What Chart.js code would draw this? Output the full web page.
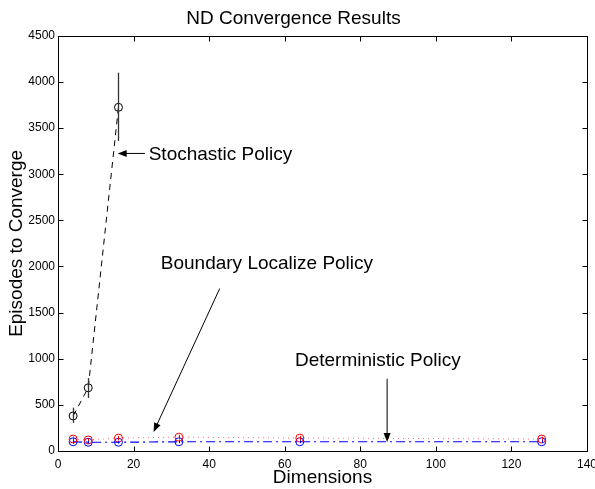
<!DOCTYPE html>
<html>
<head>
<meta charset="utf-8">
<script src="https://cdn.jsdelivr.net/npm/chart.js@4/dist/chart.umd.min.js"></script>
<style>
  html, body { margin: 0; padding: 0; background: #fff; }
  #wrap { width: 595px; height: 489px; }
</style>
</head>
<body>
<div id="wrap"><canvas id="chart"></canvas></div>
<script>
  var FONT = "'Liberation Sans', Arial, Helvetica, sans-serif";

  // data
  var stochDims = [4, 8, 16];
  var stochEpisodes = [380, 685, 3725];
  var stochLow = [305, 575, 3360];
  var stochHigh = [470, 790, 4100];

  var dims = [4, 8, 16, 32, 64, 128];
  var boundaryEpisodes = [130, 120, 140, 150, 140, 130];
  var boundaryLow = [105, 100, 115, 125, 115, 105];
  var boundaryHigh = [155, 140, 165, 175, 165, 155];
  var determEpisodes = [100, 95, 95, 100, 100, 100];
  var determLow = [80, 80, 80, 85, 85, 85];
  var determHigh = [120, 110, 110, 115, 115, 115];

  var xTicks = [0, 20, 40, 60, 80, 100, 120, 140];
  var yTicks = [0, 500, 1000, 1500, 2000, 2500, 3000, 3500, 4000, 4500];

  // annotation anchors in data units
  var notes = [
    { text: "Stochastic Policy", tx: 24.0, ty: 3215, from: [23.0, 3225], to: [15.8, 3225] },
    { text: "Boundary Localize Policy", tx: 27.2, ty: 2033, from: [42.8, 1761], to: [25.3, 207] },
    { text: "Deterministic Policy", tx: 62.7, ty: 978, from: [87.1, 783], to: [87.1, 98] }
  ];

  function pts(xs, ys) {
    return xs.map(function (x, i) { return { x: x, y: ys[i] }; });
  }

  function plainTick(v) { return String(v); }

  var errorBars = {
    id: "errorBars",
    afterDatasetsDraw: function (chart) {
      var ctx = chart.ctx, xs = chart.scales.x, ys = chart.scales.y;
      var sets = [
        { x: stochDims, lo: stochLow, hi: stochHigh, color: "#333", w: 1.3 },
        { x: dims, lo: boundaryLow, hi: boundaryHigh, color: "#ff0000", w: 1 },
        { x: dims, lo: determLow, hi: determHigh, color: "#0000ff", w: 1 }
      ];
      ctx.save();
      sets.forEach(function (s) {
        ctx.strokeStyle = s.color;
        ctx.lineWidth = s.w;
        s.x.forEach(function (x, i) {
          var px = Math.round(xs.getPixelForValue(x)) + 0.5;
          ctx.beginPath();
          ctx.moveTo(px, ys.getPixelForValue(s.lo[i]));
          ctx.lineTo(px, ys.getPixelForValue(s.hi[i]));
          ctx.stroke();
        });
      });
      ctx.restore();
    }
  };

  var boxTicks = {
    id: "boxTicks",
    afterDraw: function (chart) {
      var ctx = chart.ctx, a = chart.chartArea, xs = chart.scales.x, ys = chart.scales.y;
      var L = Math.round(a.left) + 0.5, R = Math.round(a.right) + 0.5;
      var T = Math.round(a.top) + 0.5, B = Math.round(a.bottom) + 0.5;
      ctx.save();
      ctx.strokeStyle = "#000";
      ctx.lineWidth = 1;
      ctx.strokeRect(L, T, R - L, B - T);
      ctx.beginPath();
      xTicks.forEach(function (v) {
        var px = Math.round(xs.getPixelForValue(v)) + 0.5;
        ctx.moveTo(px, B); ctx.lineTo(px, B - 5);
        ctx.moveTo(px, T); ctx.lineTo(px, T + 5);
      });
      yTicks.forEach(function (v) {
        var py = Math.round(ys.getPixelForValue(v)) + 0.5;
        ctx.moveTo(L, py); ctx.lineTo(L + 5, py);
        ctx.moveTo(R, py); ctx.lineTo(R - 5, py);
      });
      ctx.stroke();

      // text notes with arrows
      ctx.fillStyle = "#000";
      ctx.font = "19px " + FONT;
      ctx.textBaseline = "middle";
      ctx.textAlign = "left";
      notes.forEach(function (n) {
        ctx.fillText(n.text, xs.getPixelForValue(n.tx), ys.getPixelForValue(n.ty));
        var x0 = xs.getPixelForValue(n.from[0]), y0 = ys.getPixelForValue(n.from[1]);
        var x1 = xs.getPixelForValue(n.to[0]), y1 = ys.getPixelForValue(n.to[1]);
        var ang = Math.atan2(y1 - y0, x1 - x0);
        var hl = 9, hw = 3.5;
        ctx.beginPath();
        ctx.moveTo(x0, y0);
        ctx.lineTo(x1 - Math.cos(ang) * hl * 0.8, y1 - Math.sin(ang) * hl * 0.8);
        ctx.stroke();
        ctx.beginPath();
        ctx.moveTo(x1, y1);
        ctx.lineTo(x1 - Math.cos(ang) * hl - Math.sin(ang) * hw, y1 - Math.sin(ang) * hl + Math.cos(ang) * hw);
        ctx.lineTo(x1 - Math.cos(ang) * hl + Math.sin(ang) * hw, y1 - Math.sin(ang) * hl - Math.cos(ang) * hw);
        ctx.closePath();
        ctx.fill();
      });
      ctx.restore();
    }
  };

  new Chart(document.getElementById("chart"), {
    type: "line",
    data: {
      datasets: [
        {
          label: "Stochastic Policy",
          data: pts(stochDims, stochEpisodes),
          borderColor: "#000",
          borderWidth: 1,
          borderDash: [6, 5],
          pointStyle: "circle",
          pointRadius: 4,
          pointBorderColor: "#000",
          pointBackgroundColor: "rgba(0,0,0,0)",
          pointBorderWidth: 1,
          tension: 0
        },
        {
          label: "Boundary Localize Policy",
          data: pts(dims, boundaryEpisodes),
          borderColor: "#ff7070",
          borderWidth: 1,
          borderDash: [1, 4],
          pointRadius: 4,
          pointBorderColor: "#ff0000",
          pointBackgroundColor: "rgba(0,0,0,0)",
          pointBorderWidth: 1,
          tension: 0
        },
        {
          label: "Deterministic Policy",
          data: pts(dims, determEpisodes),
          borderColor: "#0000ff",
          borderWidth: 1.2,
          borderDash: [9, 4, 2, 4],
          pointRadius: 4,
          pointBorderColor: "#0000ff",
          pointBackgroundColor: "rgba(0,0,0,0)",
          pointBorderWidth: 1,
          tension: 0
        }
      ]
    },
    options: {
      responsive: true,
      maintainAspectRatio: false,
      animation: false,
      layout: { padding: { left: 0, right: 8, top: 0, bottom: 0 } },
      plugins: {
        legend: { display: false },
        tooltip: { enabled: false },
        title: {
          display: true,
          text: "ND Convergence Results",
          color: "#000",
          font: { family: FONT, size: 19, weight: "normal" },
          padding: { top: 7, bottom: 6 }
        }
      },
      scales: {
        x: {
          type: "linear",
          min: 0,
          max: 140,
          afterBuildTicks: function (axis) {
            axis.ticks = xTicks.map(function (v) { return { value: v }; });
          },
          grid: { display: false, drawTicks: false },
          border: { display: false },
          ticks: { color: "#000", font: { family: FONT, size: 12 }, padding: 6, maxRotation: 0, callback: plainTick },
          title: {
            display: true,
            text: "Dimensions",
            color: "#000",
            font: { family: FONT, size: 19 },
            padding: { top: 0, bottom: 0 }
          },
          afterFit: function (axis) {
            axis.height = 38;
            axis.paddingLeft = 0;
            axis.paddingRight = 0;
          }
        },
        y: {
          type: "linear",
          min: 0,
          max: 4500,
          afterBuildTicks: function (axis) {
            axis.ticks = yTicks.map(function (v) { return { value: v }; });
          },
          grid: { display: false, drawTicks: false },
          border: { display: false },
          ticks: { color: "#000", font: { family: FONT, size: 12 }, padding: 3, callback: plainTick },
          title: {
            display: true,
            text: "Episodes to Converge",
            color: "#000",
            font: { family: FONT, size: 19 },
            padding: { top: 5, bottom: 0 }
          },
          afterFit: function (axis) {
            axis.width = 58;
            axis.paddingTop = 0;
            axis.paddingBottom = 0;
          }
        }
      }
    },
    plugins: [errorBars, boxTicks]
  });
</script>
</body>
</html>
